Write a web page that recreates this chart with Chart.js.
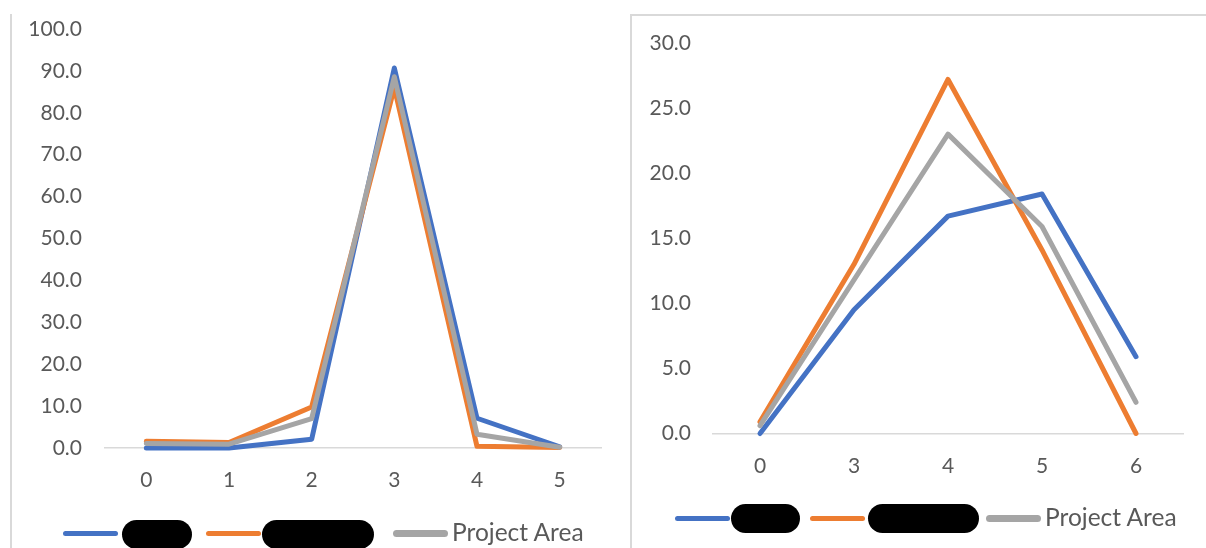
<!DOCTYPE html>
<html>
<head>
<meta charset="utf-8">
<script src="https://cdn.jsdelivr.net/npm/chart.js@4"></script>
<style>
html,body{margin:0;padding:0;background:#fff;}
body{width:1206px;height:548px;position:relative;overflow:hidden;font-family:Lato,"Open Sans",sans-serif;}
canvas{position:absolute;}
#cA{left:0;top:-20px;}
#cB{left:620px;top:0;}
.frame{position:absolute;background:#d9d9d9;}
.sw{position:absolute;border-radius:4px;}
.mask{position:absolute;background:#000;border-radius:15px;height:29px;}
.lt{position:absolute;color:#595959;font-size:24.5px;line-height:1;white-space:nowrap;}
</style>
</head>
<body>
<div class="frame" style="left:10px;top:14px;width:2px;height:534px"></div>
<div class="frame" style="left:630px;top:14px;width:576px;height:2px"></div>
<div class="frame" style="left:630px;top:14px;width:2px;height:534px"></div>
<canvas id="cA" width="620" height="568"></canvas>
<canvas id="cB" width="586" height="548"></canvas>
<div id="legA"></div>
<div id="legB"></div>
<script>
// series shared by both panels
var seriesLabels = ["Series 1", "Series 2", "Project Area"];
var seriesColors = ["#4472C4", "#ED7D31", "#A5A5A5"];
var maskedSeries = [true, true, false];

// left panel
var catsA = ["0", "1", "2", "3", "4", "5"];
var blueA = [0.0, 0.0, 2.1, 90.7, 7.1, 0.3];
var orangeA = [1.6, 1.3, 9.8, 86.0, 0.4, 0.1];
var greyA = [1.1, 0.9, 7.0, 88.6, 3.3, 0.2];
var yMaxA = 100, yStepA = 10;

// right panel
var catsB = ["0", "3", "4", "5", "6"];
var blueB = [0.0, 9.5, 16.7, 18.4, 5.9];
var orangeB = [0.9, 13.0, 27.2, 14.1, 0.0];
var greyB = [0.6, 11.8, 23.0, 15.9, 2.4];
var yMaxB = 30, yStepB = 5;

var TICK = "#595959";

function sets(vals){
  return vals.map(function(v, i){
    return {
      label: seriesLabels[i], data: v,
      borderColor: seriesColors[i], backgroundColor: seriesColors[i],
      borderWidth: 5, borderCapStyle: "round", borderJoinStyle: "round",
      pointRadius: 0, tension: 0, clip: false,
      order: vals.length - i   // last series drawn on top
    };
  });
}

function makeChart(id, cats, vals, yMax, step, box){
  return new Chart(document.getElementById(id), {
    type: "line",
    data: { labels: cats, datasets: sets(vals) },
    options: {
      responsive: false, animation: false,
      layout: { padding: { top: box.top, right: box.right, left: 0, bottom: 0 } },
      plugins: { legend: { display: false }, tooltip: { enabled: false } },
      scales: {
        x: {
          offset: true,
          grid: { display: false, drawTicks: false },
          border: { display: true, color: "#d9d9d9", width: 1.5 },
          ticks: { color: TICK, font: { family: "Lato", size: 21 }, padding: 20 },
          afterFit: function(s){ s.height = box.xh; }
        },
        y: {
          min: 0, max: yMax,
          grid: { display: false, drawTicks: false },
          border: { display: false },
          ticks: { stepSize: step, color: TICK, font: { family: "Lato", size: 21 }, padding: box.pad,
                   callback: function(v){ return Number(v).toFixed(1); } },
          afterFit: function(s){ s.width = box.yw; }
        }
      }
    }
  });
}

// left canvas sits 20px higher, so its top padding is 20px larger
makeChart("cA", catsA, [blueA, orangeA, greyA], yMaxA, yStepA, { top: 49, right: 19, xh: 100, yw: 105, pad: 23 });
makeChart("cB", catsB, [blueB, orangeB, greyB], yMaxB, yStepB, { top: 43, right: 23, xh: 114.5, yw: 93, pad: 22 });

// legend rows under each panel
function legend(elId, cy, swX, maskX, maskW, textX, maskTop){
  var html = "";
  seriesLabels.forEach(function(name, i){
    var th = i === 2 ? 7 : 5;
    html += '<div class="sw" style="left:' + swX[i] + 'px;top:' + (cy - th / 2) + 'px;width:55px;height:' + th + 'px;background:' + seriesColors[i] + '"></div>';
    if (maskedSeries[i]) {
      html += '<div class="mask" style="left:' + maskX[i] + 'px;top:' + maskTop + 'px;width:' + maskW[i] + 'px"></div>';
    } else {
      html += '<div class="lt" style="left:' + textX + 'px;top:' + (cy - 13) + 'px">' + name + '</div>';
    }
  });
  document.getElementById(elId).innerHTML = html;
}
legend("legA", 533, [63, 206, 393], [122, 262], [70, 112], 452, 520);
legend("legB", 518, [675, 810, 986], [731, 868], [69, 111], 1045, 504);
</script>
</body>
</html>
